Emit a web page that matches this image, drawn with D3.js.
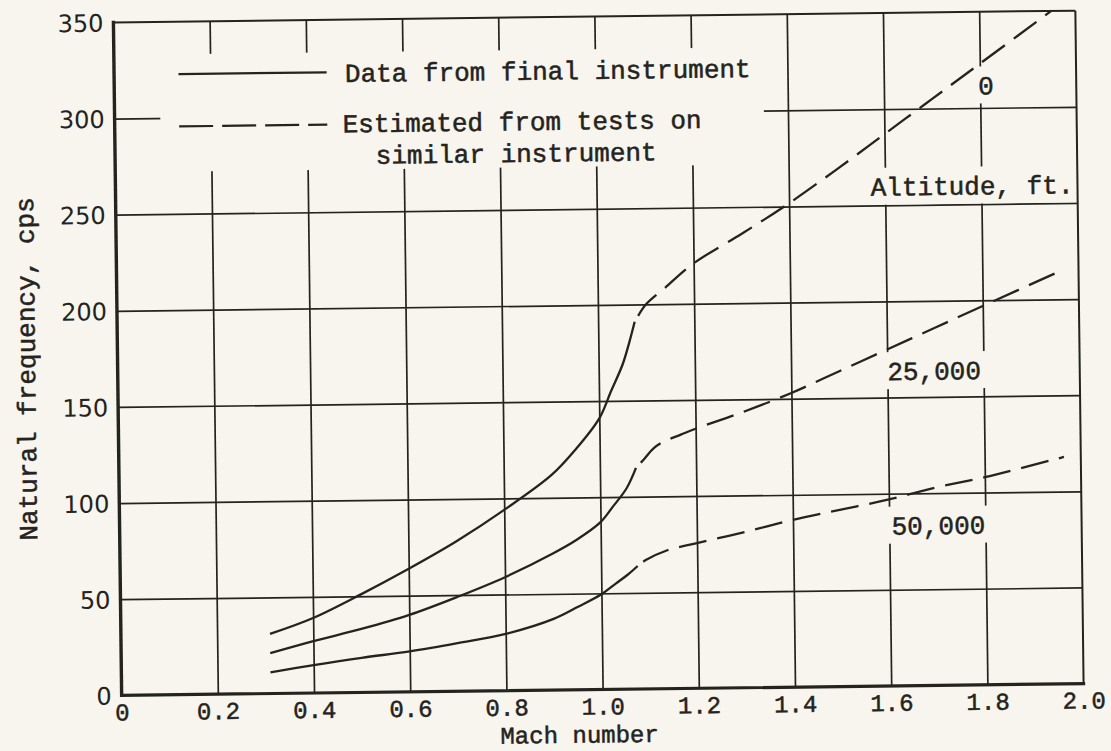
<!DOCTYPE html>
<html>
<head>
<meta charset="utf-8">
<script src="https://cdn.jsdelivr.net/npm/d3@7/dist/d3.min.js"></script>
<style>
  html, body { margin: 0; padding: 0; background: #f7f5ed; }
  svg { display: block; }
  .type { font-family: "Liberation Mono", "Courier New", monospace; font-size: 26px; fill: #24231d; stroke: #24231d; stroke-width: 0.5px; }
  .small { font-size: 24px; }
  .num { font-family: "DejaVu Sans", sans-serif; font-size: 24px; fill: #24231d; }
</style>
</head>
<body>
<svg id="chart" width="1111" height="751"></svg>
<script>
const machTicks = [0, 0.2, 0.4, 0.6, 0.8, 1.0, 1.2, 1.4, 1.6, 1.8, 2.0];
const freqTicks = [0, 50, 100, 150, 200, 250, 300, 350];

const altitudes = ['0', '25,000', '50,000'];

// solid part - data from final instrument
const machFinal = [
  [0.31, 0.4, 0.5, 0.6, 0.7, 0.8, 0.9, 0.95, 1.0, 1.025, 1.05, 1.065, 1.076],
  [0.31, 0.4, 0.5, 0.6, 0.7, 0.8, 0.9, 0.95, 1.0, 1.026, 1.055, 1.075],
  [0.31, 0.4, 0.5, 0.6, 0.7, 0.8, 0.9, 0.95, 1.0, 1.03, 1.055, 1.076]
];
const freqFinal = [
  [31, 39, 51, 64, 78, 94, 112, 125, 141, 155, 169, 181, 191],
  [21, 27, 33, 40, 49, 59, 71, 78, 87, 95, 104.5, 115],
  [11, 14.5, 18, 21, 25, 29.5, 37, 43, 49.5, 55, 59.5, 64]
];

// dashed part - estimated from tests on similar instrument
const machEstimated = [
  [1.076, 1.1, 1.14, 1.2, 1.3, 1.39, 1.5, 1.6, 1.7, 1.8, 1.95],
  [1.075, 1.092, 1.112, 1.133, 1.169, 1.2, 1.3, 1.4, 1.5, 1.6, 1.7, 1.8, 1.965],
  [1.076, 1.093, 1.138, 1.2, 1.3, 1.4, 1.5, 1.6, 1.7, 1.8, 1.965]
];
const freqEstimated = [
  [191, 200, 208.5, 221, 236, 250, 269, 287, 305, 323, 350],
  [115, 119.5, 125, 128.5, 132, 135, 143.5, 153, 164, 175, 186, 197, 215],
  [64, 67, 72, 75.5, 81, 87, 92, 97, 103, 108, 118]
];

const legendLabels = [['Data from final instrument'], ['Estimated from tests on', 'similar instrument']];

const ink = '#24231d', paper = '#f7f5ed';
const plot = { left: 117.5, right: 1079.5, top: 16.5, bottom: 689.5 };
const tilt = -0.7; // the scanned sheet sits a little askew

const x = d3.scaleLinear().domain([0, 2]).range([plot.left, plot.right]);
const y = d3.scaleLinear().domain([0, 350]).range([plot.bottom, plot.top]);

const chart = d3.select('#chart').append('g')
  .attr('transform', `rotate(${tilt}, ${(plot.left + plot.right) / 2}, ${(plot.top + plot.bottom) / 2})`);

const gridLayer = chart.append('g');
const maskLayer = chart.append('g');
const curveLayer = chart.append('g');
const textLayer = chart.append('g');
const frameLayer = chart.append('g');

// grid lines
gridLayer.append('g')
  .attr('transform', `translate(0, ${plot.bottom})`)
  .call(d3.axisBottom(x).tickValues(machTicks.slice(1, -1)).tickSize(-(plot.bottom - plot.top)).tickFormat(''))
  .call(g => g.select('.domain').remove());
gridLayer.append('g')
  .attr('transform', `translate(${plot.left}, 0)`)
  .call(d3.axisLeft(y).tickValues(freqTicks.slice(1, -1)).tickSize(-(plot.right - plot.left)).tickFormat(''))
  .call(g => g.select('.domain').remove());
gridLayer.selectAll('line').attr('stroke', ink).attr('stroke-width', 1.7);

// the legend is typed over a blanked patch of the grid
maskLayer.append('rect')
  .attr('x', x(0.095)).attr('y', y(333))
  .attr('width', x(1.35) - x(0.095)).attr('height', y(272) - y(333))
  .attr('fill', paper);

// curves
let line = d3.line().x(d => x(d[0])).y(d => y(d[1])).curve(d3.curveCatmullRom.alpha(0.5));

altitudes.forEach((alt, i) => {
  curveLayer.append('path')
    .datum(d3.zip(machFinal[i], freqFinal[i]))
    .attr('d', line)
    .attr('fill', 'none').attr('stroke', ink).attr('stroke-width', 2.3);
  curveLayer.append('path')
    .datum(d3.zip(machEstimated[i], freqEstimated[i]))
    .attr('d', line)
    .attr('fill', 'none').attr('stroke', ink).attr('stroke-width', 2.3)
    .attr('stroke-dasharray', '28,11').attr('stroke-dashoffset', 32);
});

// curve labels, each with a blank patch cut out of the grid
const labelSpots = [
  { text: altitudes[0], m: 1.812, f: 307, anchor: 'middle' },
  { text: 'Altitude, ft.', m: 1.57, f: 255 },
  { text: altitudes[1], m: 1.6, f: 159 },
  { text: altitudes[2], m: 1.605, f: 78.6 }
];
labelSpots.forEach(s => {
  let t = textLayer.append('text')
    .attr('class', 'type')
    .attr('x', x(s.m)).attr('y', y(s.f))
    .attr('text-anchor', s.anchor || 'start')
    .text(s.text);
  let b = t.node().getBBox();
  maskLayer.append('rect')
    .attr('x', b.x - 6).attr('y', y(s.f) - 28)
    .attr('width', b.width + 12).attr('height', 37)
    .attr('fill', paper);
});

// legend
const legendRows = [
  { y: 322.7, dash: null, text: [[0.48, 317.5]] },
  { y: 295.5, dash: '34,9', text: [[0.474, 291.3], [0.542, 274.8]] }
];
legendRows.forEach((row, i) => {
  textLayer.append('line')
    .attr('x1', x(0.134)).attr('x2', x(0.442))
    .attr('y1', y(row.y)).attr('y2', y(row.y))
    .attr('stroke', ink).attr('stroke-width', 2.2)
    .attr('stroke-dasharray', row.dash);
  row.text.forEach((p, j) => {
    textLayer.append('text')
      .attr('class', 'type')
      .attr('x', x(p[0])).attr('y', y(p[1]))
      .text(legendLabels[i][j]);
  });
});

// tick labels
frameLayer.append('g')
  .attr('transform', `translate(0, ${plot.bottom})`)
  .call(d3.axisBottom(x).tickValues(machTicks).tickSize(0)
    .tickFormat(d => d === 0 ? '0' : d.toFixed(1)))
  .call(g => g.select('.domain').remove())
  .call(g => g.selectAll('text').attr('class', 'type small').attr('y', 25).attr('dy', null));

frameLayer.append('g')
  .attr('transform', `translate(${plot.left}, 0)`)
  .call(d3.axisLeft(y).tickValues(freqTicks).tickSize(0).tickPadding(10))
  .call(g => g.select('.domain').remove())
  .call(g => g.selectAll('text').attr('class', 'num').attr('dy', '0.36em'));

// frame
frameLayer.append('line')
  .attr('x1', x(0)).attr('x2', x(2)).attr('y1', y(350)).attr('y2', y(350))
  .attr('stroke', ink).attr('stroke-width', 2);
frameLayer.append('line')
  .attr('x1', x(2)).attr('x2', x(2)).attr('y1', y(350)).attr('y2', y(0))
  .attr('stroke', ink).attr('stroke-width', 2);
frameLayer.append('line')
  .attr('x1', x(0)).attr('x2', x(2)).attr('y1', y(0)).attr('y2', y(0))
  .attr('stroke', ink).attr('stroke-width', 3.2).attr('stroke-linecap', 'square');
frameLayer.append('line')
  .attr('x1', x(0)).attr('x2', x(0)).attr('y1', y(350)).attr('y2', y(0))
  .attr('stroke', ink).attr('stroke-width', 3.4).attr('stroke-linecap', 'square');

// axis titles
frameLayer.append('text')
  .attr('class', 'type small')
  .attr('x', x(0.951)).attr('y', plot.bottom + 53)
  .attr('text-anchor', 'middle')
  .text('Mach number');

frameLayer.append('text')
  .attr('class', 'type')
  .attr('transform', `translate(35, ${(plot.top + plot.bottom) / 2 + 9}) rotate(-90)`)
  .attr('text-anchor', 'middle')
  .text('Natural frequency, cps');
</script>
</body>
</html>
